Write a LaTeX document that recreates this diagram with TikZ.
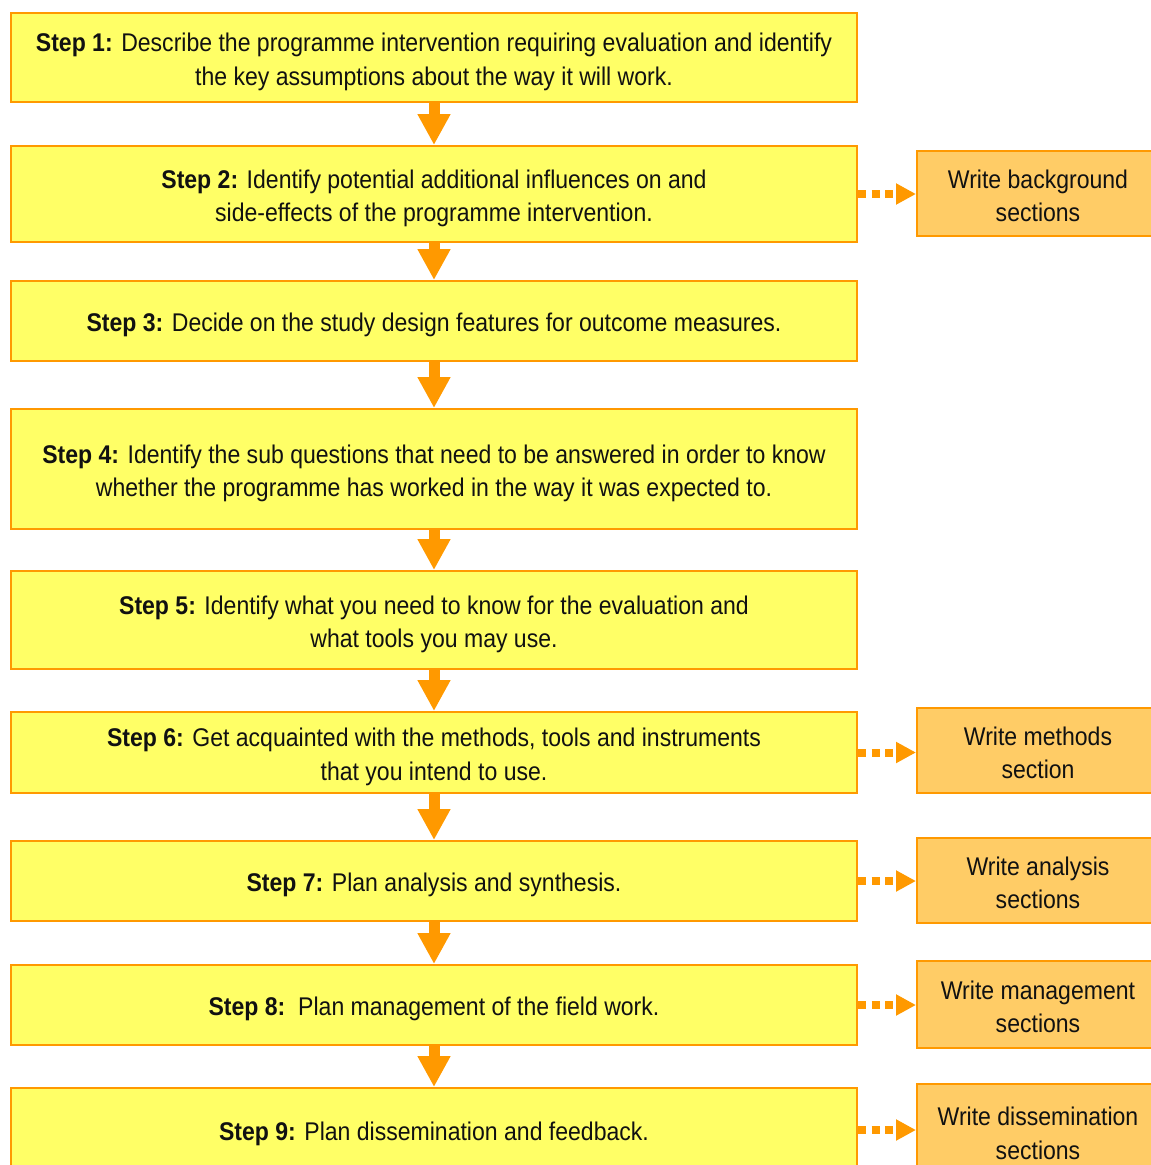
\documentclass[tikz,border=0pt]{standalone}
\usepackage{fontspec}
\setmainfont{Liberation Sans}[FakeStretch=0.9]
\usetikzlibrary{arrows.meta}
\definecolor{stepfill}{HTML}{FFFF66}
\definecolor{stepline}{HTML}{FF9900}
\definecolor{sidefill}{HTML}{FFCC66}
\definecolor{txt}{HTML}{111111}
\newcommand{\tstrut}{\rule{0pt}{27pt}}
\newcommand{\sstrut}{\rule{0pt}{23pt}}
\tikzset{
  stepbox/.style={draw=stepline, line width=2pt, fill=stepfill, minimum width=846pt,
    inner sep=0pt, align=center, text=txt, font=\fontsize{25.6}{33.5}\selectfont},
  sidebox/.style={draw=stepline, line width=2pt, fill=sidefill, minimum width=242pt,
    inner sep=0pt, align=center, text=txt, font=\fontsize{25.6}{33.5}\selectfont},
  downarrow/.style={draw=stepline, line width=11pt, -{Triangle[width=31pt,length=31pt]}},
  sidearrow/.style={draw=stepline, line width=8pt, dash pattern=on 8pt off 5.5pt,
    -{Triangle[width=20pt,length=20pt]}}
}
\begin{document}
\begin{tikzpicture}[x=1pt,y=-1pt]
\useasboundingbox (0,0) rectangle (1151,1165);
\clip (0,0) rectangle (1151,1165);
\node[stepbox, minimum height=89pt] (b1) at (434,57.5) {\tstrut\textbf{Step 1:} Describe the programme intervention requiring evaluation and identify\\the key assumptions about the way it will work.};
\node[stepbox, minimum height=96pt] (b2) at (434,194) {\tstrut\textbf{Step 2:} Identify potential additional influences on and\\side-effects of the programme intervention.};
\node[stepbox, minimum height=80pt] (b3) at (434,321) {\tstrut\textbf{Step 3:} Decide on the study design features for outcome measures.};
\node[stepbox, minimum height=120pt] (b4) at (434,469) {\tstrut\textbf{Step 4:} Identify the sub questions that need to be answered in order to know\\whether the programme has worked in the way it was expected to.};
\node[stepbox, minimum height=98pt] (b5) at (434,620) {\tstrut\textbf{Step 5:} Identify what you need to know for the evaluation and\\what tools you may use.};
\node[stepbox, minimum height=81pt] (b6) at (434,752.5) {\tstrut\textbf{Step 6:} Get acquainted with the methods, tools and instruments\\that you intend to use.};
\node[stepbox, minimum height=80pt] (b7) at (434,881) {\tstrut\textbf{Step 7:} Plan analysis and synthesis.};
\node[stepbox, minimum height=80pt] (b8) at (434,1005) {\tstrut\textbf{Step 8:}\ \ Plan management of the field work.};
\node[stepbox, minimum height=84pt] (b9) at (434,1130) {\tstrut\textbf{Step 9:} Plan dissemination and feedback.};

\node[sidebox, minimum height=85pt] (s2) at (1038,193.5) {\sstrut Write background\\sections};
\node[sidebox, minimum height=85pt] (s6) at (1038,750.5) {\sstrut Write methods\\section};
\node[sidebox, minimum height=85pt] (s7) at (1038,880.5) {\sstrut Write analysis\\sections};
\node[sidebox, minimum height=87pt] (s8) at (1038,1004.5) {\sstrut Write management\\sections};
\node[sidebox, minimum height=94pt] (s9) at (1038,1131) {\sstrut Write dissemination\\sections};

\foreach \a/\b in {b1/b2,b2/b3,b3/b4,b4/b5,b5/b6,b6/b7,b7/b8,b8/b9}
  \draw[downarrow] (\a.south) -- (\b.north);
\foreach \a/\b in {b2/s2,b6/s6,b7/s7,b8/s8,b9/s9}
  \draw[sidearrow] (\a.east) -- (\a.east -| \b.west);
\end{tikzpicture}
\end{document}
